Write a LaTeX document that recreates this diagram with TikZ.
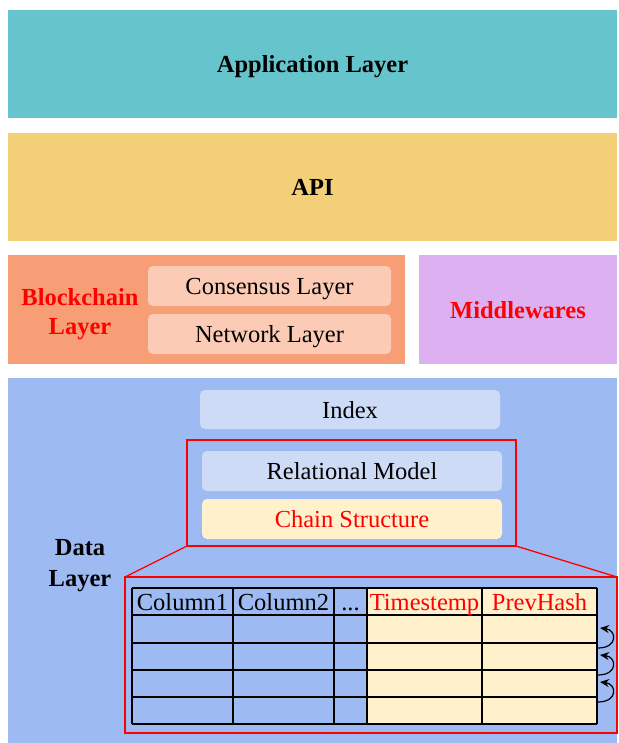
\documentclass[tikz,border=0pt]{standalone}
\usepackage{fontspec}
\setmainfont{Liberation Serif}
\usetikzlibrary{arrows.meta}
\definecolor{appc}{HTML}{66C5CC}
\definecolor{apic}{HTML}{F3D077}
\definecolor{bcc}{HTML}{F79E76}
\definecolor{bcin}{HTML}{FBCBB6}
\definecolor{midc}{HTML}{DDB0F2}
\definecolor{datac}{HTML}{9EBAF2}
\definecolor{inc}{HTML}{CEDBF7}
\definecolor{chainc}{HTML}{FFF1CC}
\definecolor{redc}{HTML}{FF0000}
\tikzset{
  layerbox/.style={draw=none, inner sep=0pt, outer sep=0pt, align=center, text depth=0pt},
  innerbox/.style={draw=none, rounded corners=5pt, inner sep=0pt, outer sep=0pt, text depth=0pt},
  redframe/.style={draw=redc, line width=1.3pt},
  tline/.style={draw=black, line width=1.4pt},
  hdr/.style={inner sep=0pt, anchor=base},
  chainarrow/.style={line width=1.2pt, -{Stealth[length=9pt,width=8pt]}},
}
\begin{document}
\begin{tikzpicture}[x=1pt,y=-1pt,font=\fontsize{24.5}{30}\selectfont]
\useasboundingbox (0,0) rectangle (618,743);
\fill[white] (0,0) rectangle (618,743);

% Application layer
\node[layerbox, fill=appc, minimum width=609, minimum height=108] (app) at (312.5,64) {\textbf{Application Layer}};
% API
\node[layerbox, fill=apic, minimum width=609, minimum height=108] (api) at (312.5,187) {\textbf{API}};
% Blockchain layer
\node[layerbox, fill=bcc, minimum width=397, minimum height=109] (bc) at (206.5,309.5) {};
\node[align=center, text=redc, font=\fontsize{24.5}{29}\selectfont\bfseries] (bct) at (80,314) {Blockchain\\Layer};
\node[innerbox, fill=bcin, minimum width=243, minimum height=40] (cons) at (269.5,286) {Consensus Layer};
\node[innerbox, fill=bcin, minimum width=243, minimum height=40] (net) at (269.5,334) {Network Layer};
% Middlewares
\node[layerbox, fill=midc, minimum width=198, minimum height=109] (mid) at (518,309.5) {\textcolor{redc}{\textbf{Middlewares}}};
% Data layer
\node[layerbox, fill=datac, minimum width=609, minimum height=366] (data) at (312.5,561) {};
\node[align=center, font=\fontsize{24.5}{31}\selectfont\bfseries] (datat) at (80,565.5) {Data\\Layer};
\node[innerbox, fill=inc, minimum width=300, minimum height=39] (idx) at (350,409.5) {Index};
\node[innerbox, fill=inc, minimum width=300, minimum height=40] (rel) at (352,471) {Relational Model};
\node[innerbox, fill=chainc, minimum width=300, minimum height=40] (chain) at (352,519) {\textcolor{redc}{Chain Structure}};
% red frames
\draw[redframe] (187,440) rectangle (516,546);
\draw[redframe] (125,577) rectangle (617,733);
\draw[redframe] (187,546) -- (125,577);
\draw[redframe] (516,546) -- (617,577);

% table
\fill[chainc] (367,588) rectangle (597,724);
\foreach \y in {588,615,643,670,697,724} { \draw[tline] (132,\y) -- (597,\y); }
\foreach \x in {132,233,334,367,482,597} { \draw[tline] (\x,588) -- (\x,724); }
\node[hdr] (c1) at (182.5,610) {Column1};
\node[hdr] (c2) at (283.5,610) {Column2};
\node[hdr] (c3) at (350.5,610) {...};
\node[hdr, text=redc] (c4) at (424.5,610) {Timestemp};
\node[hdr, text=redc] (c5) at (539.5,610) {PrevHash};

% chain arrows
\coordinate (s1) at (598,648); \coordinate (t1) at (600,628);
\coordinate (s2) at (598,675); \coordinate (t2) at (600,655);
\coordinate (s3) at (598,702); \coordinate (t3) at (600,682);
\draw[chainarrow] (s1) .. controls (618,648) and (617,630) .. (t1);
\draw[chainarrow] (s2) .. controls (618,675) and (617,657) .. (t2);
\draw[chainarrow] (s3) .. controls (618,702) and (617,684) .. (t3);
\end{tikzpicture}
\end{document}
